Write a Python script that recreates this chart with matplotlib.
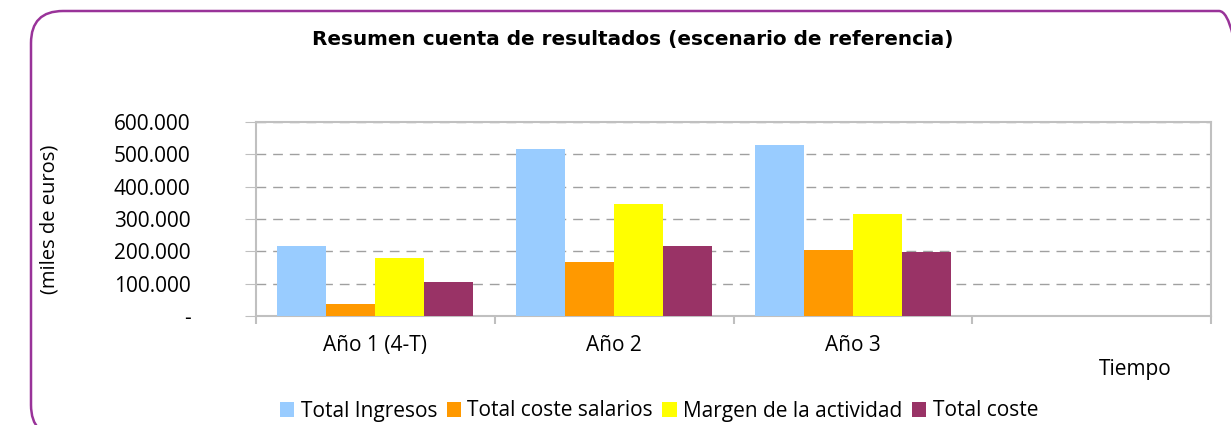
import matplotlib
matplotlib.use('Agg')
import matplotlib.pyplot as plt
import matplotlib.patches as mpatches
from matplotlib.ticker import FixedLocator, FuncFormatter
import numpy as np

categories = ["Año 1 (4-T)", "Año 2", "Año 3", ""]
series = ["Total Ingresos", "Total coste salarios", "Margen de la actividad", "Total coste"]
ingresos = [216000, 516000, 529000, 0]
salarios = [37000, 167000, 204000, 0]
margen = [179000, 346000, 315000, 0]
coste = [105000, 216000, 198000, 0]
colors = ["#99CCFF", "#FF9900", "#FFFF00", "#993366"]

plt.rcParams['font.family'] = ['Open Sans', 'DejaVu Sans']

fig = plt.figure(figsize=(12.31, 4.25), dpi=100)
ax = fig.add_axes([256/1231, 1 - 316/425, (1211-256)/1231, (316-122)/425])

x = np.arange(len(categories))
w = 0.205
values = [ingresos, salarios, margen, coste]
for i, (name, vals) in enumerate(zip(series, values)):
    ax.bar(x + (i - 1.5) * w, vals, w, color=colors[i], label=name, zorder=3)

ax.set_xlim(-0.5, 3.5)
ax.set_ylim(0, 600000)
ax.set_yticks(np.arange(0, 600001, 100000))
ax.yaxis.set_major_formatter(FuncFormatter(
    lambda v, p: "-" if v == 0 else f"{int(v):,}".replace(",", ".")))
ax.tick_params(axis='y', length=8, color='#BFBFBF', labelsize=15, pad=39)
ax.yaxis.grid(True, linestyle=(0, (7, 5)), color='#A0A0A0', linewidth=1, zorder=0)

ax.set_xticks(x)
ax.set_xticklabels(categories, fontsize=15)
ax.tick_params(axis='x', which='major', length=0, pad=14)
ax.xaxis.set_minor_locator(FixedLocator(np.arange(-0.5, 3.6, 1)))
ax.tick_params(axis='x', which='minor', length=6, color='#BFBFBF', width=1.5)

for s in ax.spines.values():
    s.set_color('#C0C0C0')
    s.set_linewidth(1.5)

ax.set_ylabel("(miles de euros)", fontsize=14.5)
ax.yaxis.set_label_coords(-196/955, 0.5)

fig.text(633/1231, 1 - 40/425, "Resumen cuenta de resultados (escenario de referencia)",
         ha='center', va='center', fontsize=14.4, fontweight='bold', family='DejaVu Sans')
fig.text(1135/1231, 1 - 370/425, "Tiempo", ha='center', va='center', fontsize=15)

fig.legend(loc='center', bbox_to_anchor=(659/1231, 1 - 411/425), ncol=4,
           frameon=False, prop={'size': 15},
           handlelength=0.7, handleheight=0.7, handletextpad=0.3, columnspacing=0.45)

border = mpatches.FancyBboxPatch((0.31, -0.12), 12.2, 4.26,
                                 boxstyle="round,pad=0,rounding_size=0.32",
                                 transform=fig.dpi_scale_trans, fill=False,
                                 edgecolor='#993399', linewidth=1.8)
fig.patches.append(border)

fig.savefig("out.png", dpi=100)
